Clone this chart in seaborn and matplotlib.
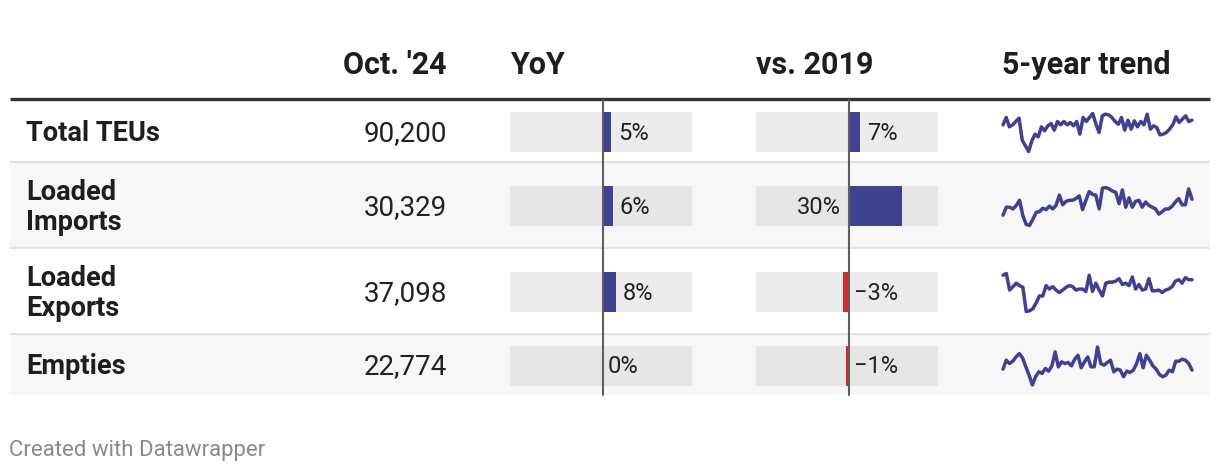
import numpy as np
import pandas as pd
import matplotlib
matplotlib.use('Agg')
import matplotlib.pyplot as plt
import seaborn as sns

row_labels = ["Total TEUs", "Loaded\nImports", "Loaded\nExports", "Empties"]
oct_24 = [90200, 30329, 37098, 22774]
# % changes (labels are rounded)
yoy_pct = [4.6, 5.6, 7.6, 0.2]
vs_2019_pct = [6.6, 30.3, -3.4, -1.4]
headers = ["Oct. '24", "YoY", "vs. 2019", "5-year trend"]

# 5-year monthly trend (relative index, read from the sparklines)
trend_total = [88, 110, 82, 88, 98, 108, 42, 25, 8, 40, 60, 52, 82, 70, 85, 92, 72, 98, 88, 98,
               88, 95, 85, 98, 60, 110, 98, 110, 122, 90, 65, 115, 120, 118, 110, 98, 90, 110, 72, 102,
               75, 100, 82, 98, 88, 120, 75, 85, 80, 58, 60, 65, 75, 88, 112, 95, 105, 115, 98, 102]
trend_imports = [42, 65, 65, 60, 70, 85, 40, 15, 12, 30, 50, 52, 62, 58, 68, 60, 70, 100, 72, 82,
                 85, 85, 90, 98, 58, 85, 110, 102, 100, 60, 120, 122, 118, 112, 108, 75, 115, 65, 92, 65,
                 82, 85, 65, 80, 70, 65, 60, 45, 52, 60, 60, 68, 80, 90, 72, 72, 118, 88]
trend_exports = [115, 120, 72, 82, 92, 85, 80, 10, 12, 18, 35, 55, 55, 85, 75, 82, 72, 65, 72, 80,
                 85, 82, 72, 75, 75, 68, 115, 68, 92, 72, 55, 92, 95, 95, 98, 105, 88, 92, 85, 110,
                 75, 88, 72, 75, 105, 70, 70, 72, 65, 72, 75, 82, 98, 102, 92, 108, 102, 102]
trend_empties = [58, 85, 75, 82, 95, 105, 92, 65, 40, 10, 35, 50, 45, 60, 52, 68, 110, 65, 80, 75,
                 78, 68, 88, 100, 62, 80, 95, 65, 65, 125, 75, 70, 78, 85, 50, 58, 55, 35, 52, 48,
                 55, 75, 105, 62, 100, 85, 68, 58, 42, 35, 40, 55, 50, 82, 82, 88, 85, 75, 55]
trends = [trend_total, trend_imports, trend_exports, trend_empties]

# --- style ---
sns.set_style("white")
plt.rcParams['font.family'] = ['Roboto', 'DejaVu Sans']

W, H = 1220, 472
BLUE = "#3f4191"
RED = "#d42b28"
DARK = "#1e1e1e"

row_edges = [100, 162, 248, 334, 395]
row_bg = ["white", "#f7f7f7", "white", "#f7f7f7"]
box_bg = ["#ececec", "#e6e6e6", "#ececec", "#e6e6e6"]
bar_cols = [(510, 692), (756, 938)]
bar_lim = (-53, 51)
spark_x = (1003, 1192)


def frac(x0, y0, x1, y1):
    # pixel box (top-left origin) -> figure fraction rect
    return [x0 / W, 1 - y1 / H, (x1 - x0) / W, (y1 - y0) / H]


fig = plt.figure(figsize=(W / 100, H / 100), dpi=100)

# background layer: bands, rules, text
bg = fig.add_axes([0, 0, 1, 1], zorder=0)
bg.set_xlim(0, W)
bg.set_ylim(H, 0)
bg.axis('off')

for i in range(4):
    bg.axhspan(row_edges[i], row_edges[i + 1], xmin=10 / W, xmax=1210 / W,
               color=row_bg[i], lw=0)
for y in row_edges[1:4]:
    bg.plot([10, 1210], [y, y], color="#e4e4e4", lw=1.6, solid_capstyle='butt')
bg.plot([10, 1210], [99, 99], color="#333333", lw=2.4, solid_capstyle='butt')

hdr_kw = dict(fontsize=22, fontweight='bold', color=DARK, va='baseline')
bg.text(447, 74, headers[0], ha='right', **hdr_kw)
bg.text(bar_cols[0][0], 74, headers[1], ha='left', **hdr_kw)
bg.text(bar_cols[1][0], 74, headers[2], ha='left', **hdr_kw)
bg.text(spark_x[0] - 1, 74, headers[3], ha='left', **hdr_kw)

for i, lab in enumerate(row_labels):
    yc = (row_edges[i] + row_edges[i + 1]) / 2 + 2.5
    bg.text(26, yc, lab, ha='left', va='center', fontsize=19.6, fontweight='bold',
            color=DARK, linespacing=1.1)
    bg.text(447, yc, f"{oct_24[i]:,}", ha='right', va='center', fontsize=20, color="#222222")

bg.text(9, 456, "Created with Datawrapper", ha='left', va='baseline',
        fontsize=16, color="#8a8a8a")

# bar cells
for c, values in enumerate([yoy_pct, vs_2019_pct]):
    x0, x1 = bar_cols[c]
    for i, v in enumerate(values):
        yc = (row_edges[i] + row_edges[i + 1]) / 2 + 1
        ax = fig.add_axes(frac(x0, yc - 20, x1, yc + 20), zorder=1)
        ax.set_facecolor(box_bg[i])
        sns.barplot(x=[v], orient='h', ax=ax, color=BLUE if v >= 0 else RED,
                    width=1.0, errorbar=None, saturation=1, linewidth=0)
        ax.set_xlim(*bar_lim)
        ax.set_ylim(0.5, -0.5)
        ax.set_xticks([])
        ax.set_yticks([])
        ax.set_xlabel("")
        ax.set_ylabel("")
        sns.despine(ax=ax, left=True, bottom=True)
        label = f"{round(v)}%".replace("-", "\u2212")
        px_per_unit = (x1 - x0) / (bar_lim[1] - bar_lim[0])
        if v > 0 and v * px_per_unit > 40:
            ax.annotate(label, (0, 0), xytext=(-6, -1), textcoords='offset points',
                        ha='right', va='center', fontsize=17, color="#222222")
        else:
            ax.annotate(label, (max(v, 0), 0), xytext=(5 if v > 0.5 else 3.5, -1),
                        textcoords='offset points', ha='left', va='center',
                        fontsize=17, color="#222222")

# sparklines
for i, series in enumerate(trends):
    yc = (row_edges[i] + row_edges[i + 1]) / 2 + 1.5
    ax = fig.add_axes(frac(spark_x[0], yc - 19, spark_x[1], yc + 19), zorder=1)
    df = pd.DataFrame({"month": np.arange(len(series)), "teu": series})
    sns.lineplot(data=df, x="month", y="teu", ax=ax, color=BLUE, linewidth=2.5)
    ax.set_xlim(0, len(series) - 1)
    ax.set_ylim(min(series), max(series))
    ax.axis('off')
    for ln in ax.lines:
        ln.set_clip_on(False)
        ln.set_solid_joinstyle('round')

# zero lines on top of the bar cells
top = fig.add_axes([0, 0, 1, 1], zorder=2)
top.set_xlim(0, W)
top.set_ylim(H, 0)
top.axis('off')
for x0, x1 in bar_cols:
    xz = x0 + (0 - bar_lim[0]) / (bar_lim[1] - bar_lim[0]) * (x1 - x0)
    top.plot([xz, xz], [row_edges[0], row_edges[-1]], color="#5f5f5f", lw=1.5)

fig.savefig("out.png", dpi=100)
